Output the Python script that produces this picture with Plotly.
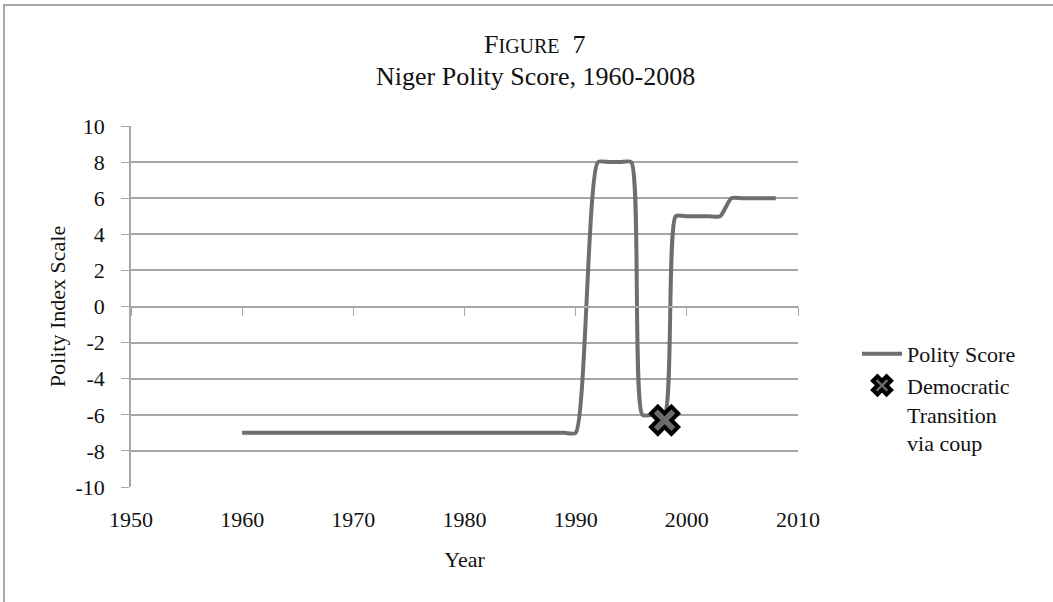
import plotly.graph_objects as go

# Niger polity scores (1991 transitional year not plotted)
years = list(range(1960, 1991)) + list(range(1992, 2009))
polity = ([-7] * 31            # 1960-1990
          + [8, 8, 8, 8]       # 1992-1995
          + [-6, -6, -6]       # 1996-1998
          + [5, 5, 5, 5, 5]    # 1999-2003
          + [6, 6, 6, 6, 6])   # 2004-2008

coup_year = [1998]
coup_score = [-6.3]

y_ticks = [10, 8, 6, 4, 2, 0, -2, -4, -6, -8, -10]
y_labels = ["10", "8", "6", "4", "2", "0", "-2", "-4", "-6", "-8", "-10"]

FONT = "Liberation Serif"
GRID = "#a6a6a6"

fig = go.Figure()

fig.add_trace(go.Scatter(
    x=years, y=polity,
    name="Polity Score",
    mode="lines",
    line=dict(color="#6e6e6e", width=4, shape="spline", smoothing=0.6),
))

fig.add_trace(go.Scatter(
    x=coup_year, y=coup_score,
    name="Democratic<br>Transition<br>via coup",
    mode="markers",
    marker=dict(symbol="x", size=24, color="#6b6b6b",
                line=dict(color="#000000", width=4)),
))

# invisible helper so the axis crossing at y=0 gets drawn
fig.add_trace(go.Scatter(x=[1950], y=[0], xaxis="x2", mode="markers",
                         marker=dict(opacity=0), showlegend=False,
                         hoverinfo="skip"))

fig.update_layout(
    width=1053, height=602,
    margin=dict(l=131, r=255, t=126, b=115),
    paper_bgcolor="white", plot_bgcolor="white",
    font=dict(family=FONT, size=22, color="#111111"),
    xaxis=dict(range=[1950, 2010], dtick=10, showgrid=False, zeroline=False,
               showline=False, ticks="", ticklabelstandoff=17,
               title=dict(text="Year", standoff=20, font=dict(size=22))),
    xaxis2=dict(range=[1950, 2010], dtick=10, overlaying="x", anchor="free",
                position=0.5, showgrid=False, zeroline=False, showline=True,
                linecolor=GRID, linewidth=1.5, ticks="outside", ticklen=9,
                tickcolor=GRID, showticklabels=False),
    yaxis=dict(range=[-10, 10], tickvals=y_ticks, ticktext=y_labels,
               showgrid=True, gridcolor=GRID,
               gridwidth=1.5, zeroline=False, showline=True, linecolor=GRID,
               linewidth=1.5, ticks="outside", ticklen=8, tickcolor=GRID,
               ticklabelstandoff=12,
               title=dict(text="Polity Index Scale", standoff=4,
                          font=dict(size=22))),
    legend=dict(x=1.0885, y=0.4266, xanchor="left", yanchor="top",
                font=dict(size=22), bgcolor="rgba(0,0,0,0)",
                itemwidth=40, valign="top"),
    showlegend=True,
)

fig.add_annotation(
    text="F<span style='font-size:20px'>IGURE</span>  7",
    xref="paper", yref="paper", x=(535 - 131) / 667, y=(487 - 45) / 361,
    xanchor="center", yanchor="middle", showarrow=False,
    font=dict(family=FONT, size=26),
)
fig.add_annotation(
    text="Niger Polity Score, 1960-2008",
    xref="paper", yref="paper", x=(535 - 131) / 667, y=(487 - 76) / 361,
    xanchor="center", yanchor="middle", showarrow=False,
    font=dict(family=FONT, size=26),
)

# outer chart border
fig.add_shape(type="rect", xref="paper", yref="paper",
              x0=(4 - 131) / 667, x1=1.5, y0=-0.5, y1=(487 - 5) / 361,
              line=dict(color="#8c8c8c", width=1.5), layer="below")

fig.write_html("out.html", config={"displayModeBar": False},
               post_script="document.body.style.margin='0';")
